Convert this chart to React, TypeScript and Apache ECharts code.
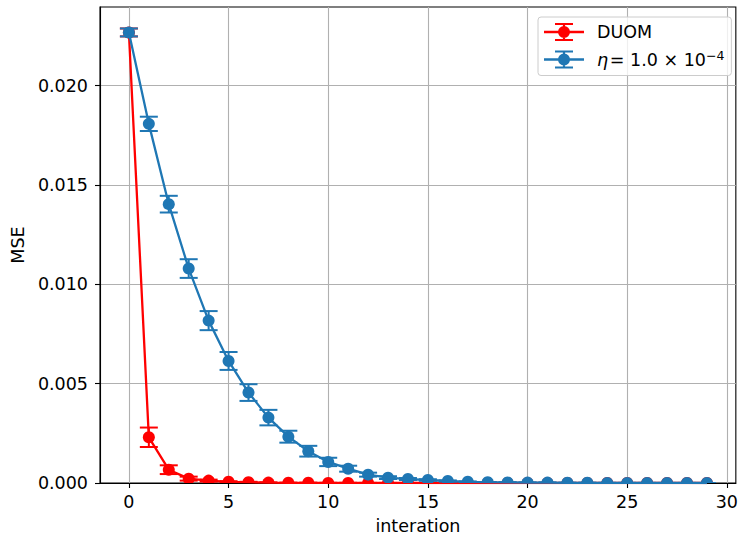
import React, { useEffect, useRef } from "react";
import * as echarts from "echarts";

const iterations = [0, 1, 2, 3, 4, 5, 6, 7, 8, 9, 10, 11, 12, 13, 14, 15, 16, 17, 18, 19, 20, 21, 22, 23, 24, 25, 26, 27, 28, 29];

const duomMSE = [0.02267, 0.0023, 0.00067, 0.00022, 0.00012, 0.00006, 0.00004, 0.00002, 0.00001, 0.00001, 0.000005, 0.000005, 0.000003, 0.000002, 0.000002, 0.000001, 0.000001, 0, 0, 0, 0, 0, 0, 0, 0, 0, 0, 0, 0, 0];
const duomErr = [0.0002, 0.00049, 0.00022, 0.0001, 0.00005, 0.00003, 0.00002, 0.00001, 0.000005, 0.000004, 0.000003, 0.000002, 0.000002, 0.000001, 0.000001, 0.000001, 0, 0, 0, 0, 0, 0, 0, 0, 0, 0, 0, 0, 0, 0];

const etaMSE = [0.02267, 0.01807, 0.01403, 0.01079, 0.00817, 0.00614, 0.00455, 0.00329, 0.00233, 0.0016, 0.00106, 0.00072, 0.00042, 0.00027, 0.0002, 0.00015, 0.0001, 0.00006, 0.00004, 0.00003, 0.00002, 0.00002, 0.00001, 0.00001, 0.000005, 0.000004, 0.000003, 0.000002, 0.000002, 0.000001];
const etaErr = [0.0002, 0.00036, 0.00042, 0.00047, 0.00048, 0.00045, 0.00042, 0.00039, 0.0003, 0.00027, 0.00021, 0.00015, 0.0001, 0.00007, 0.00005, 0.00004, 0.00003, 0.00002, 0.00001, 0.00001, 0.000005, 0.000004, 0.000003, 0.000002, 0.000002, 0.000001, 0.000001, 0.000001, 0, 0];

const xTicks = [0, 5, 10, 15, 20, 25, 30];
const yTicks = [0, 0.005, 0.01, 0.015, 0.02];

const RED = "#ff0000";
const BLUE = "#1f77b4";
const FONT = "DejaVu Sans";
const FS = 17.5;

const legendIcon =
  "path://M0,7.8H40V10.2H0Z M18.9,0H21.1V18H18.9Z M11,0H29V2H11Z M11,16H29V18H11Z M26,9A6,6 0 1,1 14,9A6,6 0 1,1 26,9Z";

function errRender(color: string) {
  return (params: any, api: any) => {
    const x = api.value(0);
    const y = api.value(1);
    const e = api.value(2);
    const c = api.coord([x, y]);
    const lo = api.coord([x, y - e]);
    const hi = api.coord([x, y + e]);
    const cap = 9;
    const st = { stroke: color, lineWidth: 2 };
    return {
      type: "group",
      children: [
        { type: "line", shape: { x1: c[0], y1: hi[1], x2: c[0], y2: lo[1] }, style: st },
        { type: "line", shape: { x1: c[0] - cap, y1: hi[1], x2: c[0] + cap, y2: hi[1] }, style: st },
        { type: "line", shape: { x1: c[0] - cap, y1: lo[1], x2: c[0] + cap, y2: lo[1] }, style: st },
        { type: "circle", shape: { cx: c[0], cy: c[1], r: 6 }, style: { fill: color } },
      ],
    };
  };
}

export default function App() {
  const ref = useRef<HTMLDivElement>(null);
  useEffect(() => {
    if (!ref.current) return;
    const chart = echarts.init(ref.current, undefined, { renderer: "svg" });
    const duomLine = iterations.map((x, i) => [x, duomMSE[i]]);
    const etaLine = iterations.map((x, i) => [x, etaMSE[i]]);
    const duomPts = iterations.map((x, i) => [x, duomMSE[i], duomErr[i]]);
    const etaPts = iterations.map((x, i) => [x, etaMSE[i], etaErr[i]]);
    const axisText = { fontFamily: FONT, fontSize: FS, color: "#000" };
    chart.setOption({
      animation: false,
      backgroundColor: "#ffffff",
      grid: {
        left: 100,
        right: 3,
        top: 7,
        bottom: 57,
        show: true,
        borderColor: "#000",
        borderWidth: 1.1,
        backgroundColor: "transparent",
      },
      legend: {
        orient: "vertical",
        left: 538,
        top: 17,
        padding: [6, 7, 7, 6],
        itemWidth: 40,
        itemHeight: 18,
        itemGap: 8,
        backgroundColor: "rgba(255,255,255,0.8)",
        borderColor: "#cccccc",
        borderWidth: 1,
        borderRadius: 3,
        itemStyle: { borderWidth: 0 },
        textStyle: {
          fontFamily: FONT,
          fontSize: FS,
          color: "#000",
          padding: [0, 0, 0, 8],
          rich: {
            it: { fontFamily: FONT, fontSize: FS, fontStyle: "italic", color: "#000" },
            n: { fontFamily: FONT, fontSize: FS, color: "#000" },
            sup: { fontFamily: FONT, fontSize: 12.5, color: "#000", verticalAlign: "top", padding: [0, 0, 8, 0] },
          },
        },
        formatter: (name: string) =>
          name === "DUOM" ? "DUOM" : "{it|η}{n|\u200A= 1.0 × 10}{sup|−4}",
        data: [
          { name: "DUOM", icon: legendIcon, itemStyle: { color: RED } },
          { name: "eta", icon: legendIcon, itemStyle: { color: BLUE } },
        ],
      },
      xAxis: {
        type: "value",
        min: -1.45,
        max: 30.45,
        splitNumber: 5,
        name: "interation",
        nameLocation: "middle",
        nameGap: 34,
        nameTextStyle: axisText,
        axisLine: { show: true, onZero: false, lineStyle: { color: "#000", width: 1.1 } },
        axisTick: { show: true, length: 5, customValues: xTicks, lineStyle: { color: "#000", width: 1.1 } },
        axisLabel: { ...axisText, margin: 10, customValues: xTicks, formatter: (v: number) => String(v) },
        splitLine: { show: true, lineStyle: { color: "#b0b0b0", width: 1.1 } },
      },
      yAxis: {
        type: "value",
        min: 0,
        max: 0.02395,
        splitNumber: 5,
        name: "MSE",
        nameLocation: "middle",
        nameGap: 70,
        nameTextStyle: axisText,
        axisLine: { show: true, onZero: false, lineStyle: { color: "#000", width: 1.1 } },
        axisTick: { show: true, length: 5, customValues: yTicks, lineStyle: { color: "#000", width: 1.1 } },
        axisLabel: { ...axisText, margin: 12, customValues: yTicks, formatter: (v: number) => v.toFixed(3) },
        splitLine: { show: true, lineStyle: { color: "#b0b0b0", width: 1.1 } },
      },
      series: [
        {
          name: "DUOM",
          type: "line",
          data: duomLine,
          symbol: "none",
          color: RED,
          lineStyle: { color: RED, width: 2.3 },
          z: 2,
        },
        {
          name: "DUOM",
          type: "custom",
          data: duomPts,
          renderItem: errRender(RED),
          encode: { x: 0, y: 1 },
          clip: true,
          color: RED,
          z: 2,
        },
        {
          name: "eta",
          type: "line",
          data: etaLine,
          symbol: "none",
          color: BLUE,
          lineStyle: { color: BLUE, width: 2.3 },
          z: 3,
        },
        {
          name: "eta",
          type: "custom",
          data: etaPts,
          renderItem: errRender(BLUE),
          encode: { x: 0, y: 1 },
          clip: true,
          color: BLUE,
          z: 3,
        },
      ],
    });
    return () => chart.dispose();
  }, []);
  return (
    <div
      ref={ref}
      style={{ position: "absolute", left: 0, top: 0, width: 741, height: 540, background: "#fff" }}
    />
  );
}
